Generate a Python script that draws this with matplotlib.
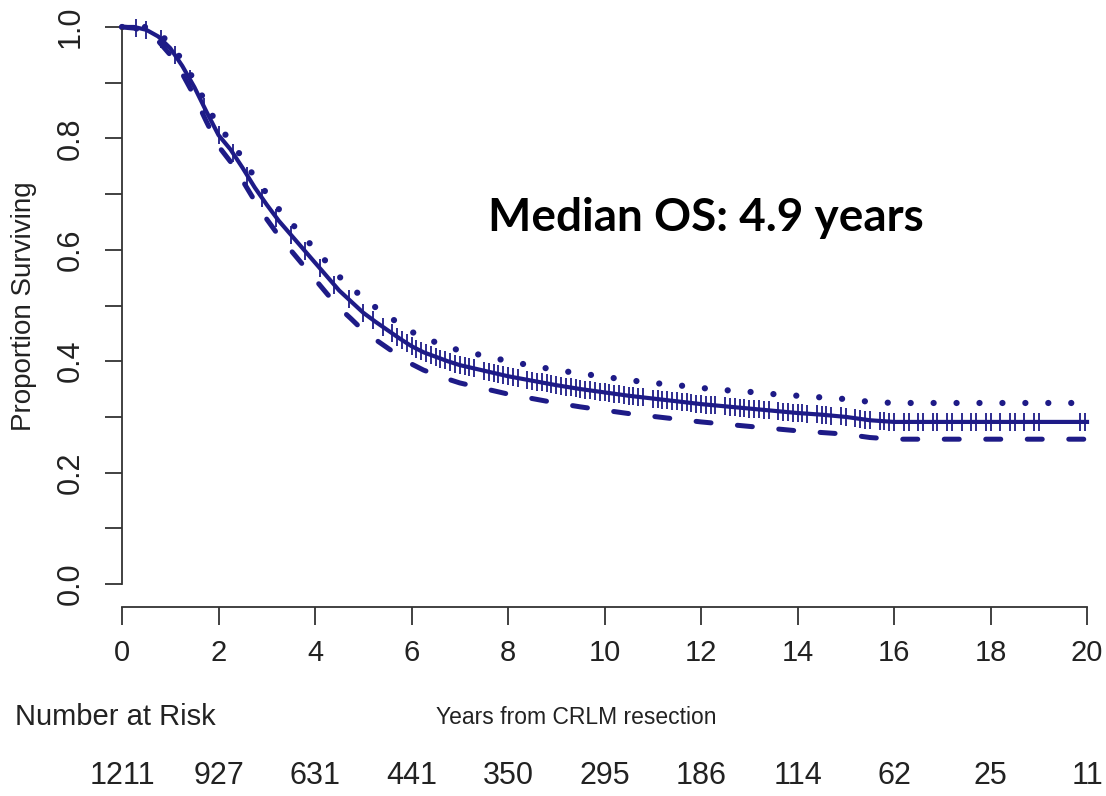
import numpy as np
import matplotlib
matplotlib.use("Agg")
import matplotlib.pyplot as plt
import matplotlib.transforms as mtransforms

# Kaplan-Meier estimate (years, proportion surviving)
times = [0, 0.25, 0.5, 0.75, 1.0, 1.25, 1.5, 1.75, 2.0, 2.25, 2.5, 2.75, 3.0,
         3.25, 3.5, 3.75, 4.0, 4.25, 4.5, 4.75, 5.0, 5.25, 5.5, 5.75, 6.0,
         6.25, 6.5, 6.75, 7.0, 7.5, 8.0, 8.5, 9.0, 9.5, 10.0, 10.5, 11.0,
         11.5, 12.0, 12.5, 13.0, 13.5, 14.0, 14.5, 15.0, 15.5, 16.0, 20.0]
surv = [1.0, 1.0, 0.995, 0.983, 0.962, 0.93, 0.892, 0.848, 0.806, 0.78, 0.747,
        0.712, 0.681, 0.652, 0.627, 0.602, 0.577, 0.552, 0.527, 0.507, 0.487,
        0.471, 0.456, 0.441, 0.427, 0.416, 0.408, 0.4, 0.393, 0.383, 0.373,
        0.365, 0.357, 0.35, 0.344, 0.338, 0.333, 0.328, 0.323, 0.319, 0.315,
        0.311, 0.307, 0.304, 0.3, 0.294, 0.291, 0.291]
upper = [1.0, 1.0, 1.0, 0.99, 0.97, 0.94, 0.904, 0.861, 0.821, 0.796, 0.764,
         0.73, 0.701, 0.673, 0.649, 0.625, 0.601, 0.577, 0.552, 0.533, 0.513,
         0.497, 0.482, 0.467, 0.453, 0.442, 0.434, 0.426, 0.419, 0.41, 0.4,
         0.392, 0.384, 0.378, 0.372, 0.366, 0.361, 0.357, 0.352, 0.348, 0.345,
         0.341, 0.338, 0.335, 0.332, 0.327, 0.325, 0.325]
lower = [1.0, 0.998, 0.99, 0.975, 0.95, 0.916, 0.876, 0.83, 0.786, 0.758,
         0.724, 0.688, 0.655, 0.625, 0.599, 0.573, 0.547, 0.521, 0.496, 0.476,
         0.455, 0.439, 0.424, 0.409, 0.395, 0.384, 0.376, 0.368, 0.361, 0.351,
         0.341, 0.333, 0.325, 0.318, 0.312, 0.306, 0.301, 0.296, 0.291, 0.287,
         0.283, 0.279, 0.275, 0.272, 0.269, 0.263, 0.26, 0.26]

# censoring times (years)
censor_times = [0.3, 0.5, 0.8, 1.1, 1.4, 1.7, 2.0, 2.3, 2.6, 2.9, 3.2, 3.5,
                3.8, 4.1, 4.4, 4.7, 5.0, 5.2, 5.4, 5.6, 5.7, 5.8, 5.9, 6.0,
                6.1, 6.2, 6.3, 6.4, 6.5, 6.6, 6.7, 6.8, 6.9, 7.0, 7.1, 7.2,
                7.3, 7.5, 7.6, 7.7, 7.8, 7.9, 8.0, 8.1, 8.2, 8.4, 8.5, 8.6,
                8.7, 8.8, 8.9, 9.0, 9.1, 9.2, 9.3, 9.4, 9.5, 9.6, 9.7, 9.8,
                9.9, 10.0, 10.1, 10.2, 10.3, 10.4, 10.5, 10.6, 10.7, 10.8,
                11.0, 11.1, 11.2, 11.3, 11.4, 11.5, 11.6, 11.7, 11.8, 11.9,
                12.0, 12.1, 12.2, 12.3, 12.5, 12.6, 12.7, 12.8, 12.9, 13.0,
                13.1, 13.2, 13.3, 13.4, 13.6, 13.7, 13.8, 13.9, 14.0, 14.1,
                14.2, 14.4, 14.5, 14.6, 14.7, 14.9, 15.0, 15.2, 15.3, 15.4,
                15.5, 15.7, 15.8, 15.9, 16.0, 16.2, 16.3, 16.5, 16.6, 16.8,
                16.9, 17.1, 17.2, 17.4, 17.6, 17.7, 17.9, 18.0, 18.2, 18.4,
                18.5, 18.7, 18.9, 19.0, 19.85, 19.95]

risk_years = [0, 2, 4, 6, 8, 10, 12, 14, 16, 18, 20]
at_risk = [1211, 927, 631, 441, 350, 295, 186, 114, 62, 25, 11]
y_major = [0.0, 0.2, 0.4, 0.6, 0.8, 1.0]
y_minor = [0.1, 0.3, 0.5, 0.7, 0.9]

col = "#1e1b87"
txt = "#222222"
plt.rcParams["font.family"] = ["Liberation Sans", "DejaVu Sans"]

fig = plt.figure(figsize=(11.06, 7.96), dpi=100)
ax = fig.add_axes([122 / 1106, 0.2374, 0.89, 0.7567])

# survival curve and confidence band
ax.plot(times, surv, color=col, lw=3, clip_on=False, zorder=3)
ax.plot(times, upper, color=col, lw=4.5,
        linestyle=(0, (0.01, 3.66)), dash_capstyle="round", clip_on=False)
ax.plot(times, lower, color=col, lw=3.6,
        linestyle=(0, (3, 5.3)), dash_capstyle="round", clip_on=False)

# censor marks
cy = np.interp(censor_times, times, surv)
ax.plot(censor_times, cy, linestyle="none", marker="|", markersize=13,
        mew=1.3, color=col, clip_on=False, zorder=3)

ax.set_xlim(0, 20.4)
ax.set_ylim(-0.0413, 1.04)
for s in ["top", "right"]:
    ax.spines[s].set_visible(False)
ax.spines["left"].set_bounds(0, 1)
ax.spines["bottom"].set_bounds(0, 20)
for s in ["left", "bottom"]:
    ax.spines[s].set_linewidth(1.3)
    ax.spines[s].set_color("#333333")

ax.set_xticks(risk_years)
ax.set_yticks(y_major)
ax.set_yticks(y_minor, minor=True)
ax.set_yticklabels([f"{v:.1f}" for v in y_major], rotation=90, va="center")
ax.tick_params(axis="both", which="both", direction="out", width=1.3,
               color="#333333", labelcolor=txt)
ax.tick_params(axis="x", length=13, pad=10, labelsize=21)
ax.tick_params(axis="y", which="both", length=12, pad=14, labelsize=22)

fig.text(24 / 1106, 1 - 306 / 796, "Proportion Surviving", rotation=90,
         ha="center", va="center", fontsize=20, color=txt)

fig.text(488 / 1106, 1 - 231 / 796, "Median OS: 4.9 years",
         fontsize=33, fontweight="bold", family=["Lato", "DejaVu Sans"],
         ha="left", va="baseline")

fig.text(15 / 1106, 1 - 717 / 796, "Number at Risk", ha="left", va="center",
         fontsize=21, color=txt)
fig.text(576 / 1106, 1 - 717 / 796, "Years from CRLM resection",
         ha="center", va="center", fontsize=16.5, color=txt)

trans = mtransforms.blended_transform_factory(ax.transData, fig.transFigure)
for yr, n in zip(risk_years, at_risk):
    ax.text(yr, 1 - 776 / 796, str(n), transform=trans, ha="center",
            va="center", fontsize=22, color=txt)

fig.savefig("out.png", dpi=100)
